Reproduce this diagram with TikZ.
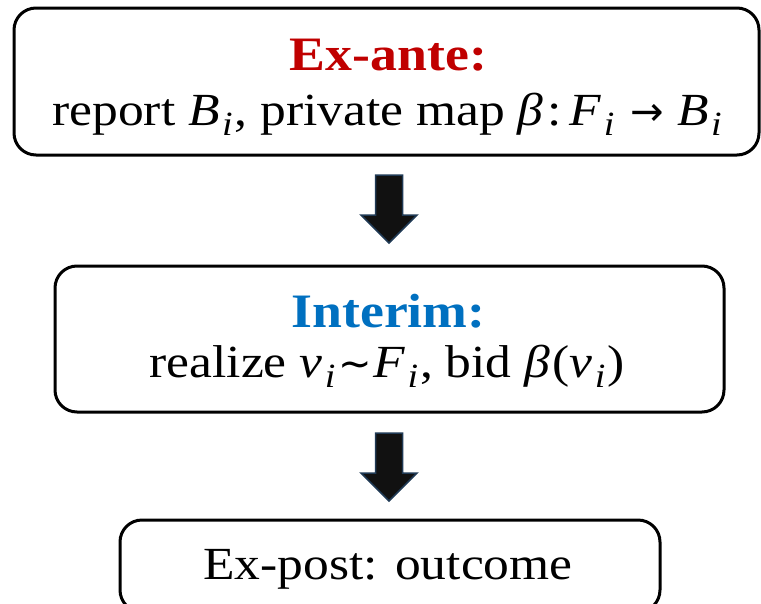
\documentclass[tikz,border=0pt]{standalone}
\usepackage{fontspec}
\setmainfont{Liberation Serif}[FakeStretch=1.12]
\newfontfamily\symfont{DejaVu Sans}
\usetikzlibrary{calc}
\definecolor{stagered}{HTML}{C00000}
\definecolor{stageblue}{HTML}{0070C0}
\definecolor{arrowfill}{HTML}{111111}
\definecolor{arrowedge}{HTML}{203A55}
% italic variable with a lowered italic index
\newcommand\ivar[2]{\textit{#1}\kern0.05em\raisebox{-0.22em}{\fontsize{34}{34}\selectfont\textit{#2}}\kern0.04em}
% operator symbols taken from DejaVu Sans
\newcommand\opsym[1]{{\symfont\fontsize{40}{40}\selectfont #1}}
\tikzset{
  stagebox/.style={draw=black, line width=3pt, rounded corners=22pt, inner sep=0pt},
  titletext/.style={anchor=base, inner sep=0pt, font=\fontsize{48}{48}\selectfont\bfseries},
  bodytext/.style={anchor=base, inner sep=0pt, font=\fontsize{46}{46}\selectfont},
  blockarrow/.style={fill=arrowfill, draw=arrowedge, line width=1.5pt, line join=miter}
}
\begin{document}
\begin{tikzpicture}[x=1pt, y=-1pt]
  \useasboundingbox (0,0) rectangle (761,603);
  \clip (0,0) rectangle (761,603);

  % stage boxes
  \node[stagebox, minimum width=745pt, minimum height=147pt] (exante) at (386.5,81.5) {};
  \node[stagebox, minimum width=669pt, minimum height=146pt] (interim) at (389.5,339) {};
  \node[stagebox, minimum width=540pt, minimum height=92pt] (expost) at (390,566) {};

  % stage texts
  \node[titletext, text=stagered] (t1) at (388.5,70) {Ex-ante:};
  \node[bodytext] (b1) at (388,125.5) {report \ivar{B}{i}, private map \textit{β}\kern0.08em:\kern0.18em\ivar{F}{i}\kern0.3em\opsym{→}\kern0.3em\ivar{B}{i}};
  \node[titletext, text=stageblue] (t2) at (388.5,327) {Interim:};
  \node[bodytext] (b2) at (387,377) {realize \ivar{v}{i}\kern0.03em\opsym{∼}\kern0.03em\ivar{F}{i}, bid \textit{β}\kern0.05em(\ivar{v}{i})};
  \node[bodytext] (b3) at (388,579) {Ex-post: outcome};

  % block arrows between stages
  \coordinate (a1) at ($(exante.south)+(2.5,18.5)$);
  \coordinate (a2) at ($(interim.south)+(-0.5,19.5)$);
  \foreach \c in {a1,a2}{
    \draw[blockarrow] ($(\c)+(-13.5,0)$) -- ($(\c)+(13.5,0)$) -- ($(\c)+(13.5,40)$)
      -- ($(\c)+(28,40)$) -- ($(\c)+(0,68)$) -- ($(\c)+(-28,40)$)
      -- ($(\c)+(-13.5,40)$) -- cycle;
  }
\end{tikzpicture}
\end{document}
